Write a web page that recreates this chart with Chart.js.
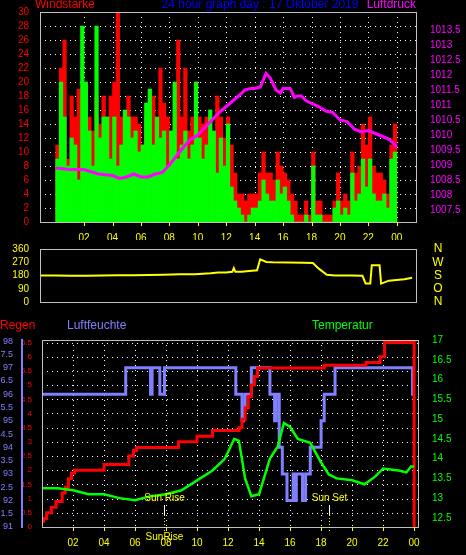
<!DOCTYPE html>
<html><head><meta charset="utf-8">
<script src="https://cdn.jsdelivr.net/npm/chart.js@4.4.0/dist/chart.umd.min.js"></script>
<style>
body{margin:0;background:#000;width:466px;height:555px;overflow:hidden;position:relative}
.c{position:absolute;left:0}
</style></head><body>
<div class="c" style="top:0;width:466px;height:240px"><canvas id="c1"></canvas></div>
<div class="c" style="top:240px;width:466px;height:78px"><canvas id="c2"></canvas></div>
<div class="c" style="top:318px;width:466px;height:237px"><canvas id="c3"></canvas></div>
<script>
// ---- data ----
const hourTicks=[2,4,6,8,10,12,14,16,18,20,22,24];
const gust=[11,22,26,9,18,15,19,15, 11,15,13,18,14,18,15,18, 20,30,15,11,18,15,15,14, 11,15,15,18,14,22,17,15,
 12,15,26,15,22,13,15,20, 15,14,15,13,12,18,15,12, 15,11,7,4,4,3,4,4, 4,7,10,7,7,6,10,8,
 7,6,4,3,1,1,3,1, 10,3,3,1,1,1,3,7, 3,4,3,10,7,8,14,11, 15,8,7,7,6,4,11,14];
const speed=[9,20,15,8,12,11,6,28, 20,13,8,28,12,15,15,9, 15,8,11,16,15,12,13,10, 11,17,19,11,15,12,13,8,
 13,20,9,11,13,9,11,20, 12,9,11,16,13,7,12,8, 14,5,3,2,1,0,1,2, 2,3,6,4,3,3,6,4,
 5,3,1,0,0,0,1,0, 8,1,1,0,0,0,2,3, 1,2,1,7,3,4,9,5, 9,4,3,3,4,2,9,10];
const windHours=gust.map((_,i)=>i*0.25+0.125);
const pressHours=[0,1,2,3,4,4.5,5,5.5,6,6.5,7,7.5,8,8.5,9,9.5,10,10.5,11,11.5,12,12.5,13,13.3,13.7,14,14.4,14.8,15.1,15.5,15.8,16,16.5,16.8,17,17.3,17.6,18,18.5,19,19.5,20,20.5,21,21.5,22,22.5,23,23.5,24];
const pressure=[1008.9,1008.85,1008.85,1008.7,1008.65,1008.55,1008.6,1008.7,1008.6,1008.6,1008.7,1008.75,1009.0,1009.3,1009.6,1009.85,1010.0,1010.25,1010.5,1010.75,1010.95,1011.15,1011.35,1011.5,1011.55,1011.55,1011.6,1012.05,1011.9,1011.5,1011.4,1011.55,1011.55,1011.25,1011.3,1011.3,1011.15,1011.05,1010.95,1010.8,1010.75,1010.5,1010.45,1010.2,1010.1,1010.15,1010.05,1009.95,1009.85,1009.6];
const dirHours=[0,1,2,3,4,5,6,7,8,9,10,11,11.5,12,12.4,12.5,12.6,13,13.5,14,14.2,14.6,15,16,17,17.6,18,18.5,19,20,20.8,21,21.3,21.4,21.9,22,22.5,23,23.5,24];
const windDir=[180,180,178,178,180,182,182,184,185,188,188,195,200,200,205,230,205,205,210,215,290,272,270,268,266,265,225,185,180,180,178,125,125,250,250,125,145,150,155,165];
const rainHours=[0,0.1,0.3,0.6,0.9,1.3,1.5,1.7,1.9,2.1,4.0,5.6,5.9,6.1,8.8,10.0,11.0,12.7,12.9,13.1,13.3,13.5,13.7,13.9,18.2,20.9,21.8,22.1,23.9,24.0];
const rain=[0.2,0.3,0.5,0.7,0.9,1.2,1.4,1.7,1.9,2.0,2.2,2.5,2.7,2.8,3.0,3.2,3.4,3.5,3.8,4.2,4.6,5.0,5.3,5.6,5.7,5.8,6.0,6.5,6.6,0];
const humHours=[0,5.4,7.0,7.1,7.6,7.9,12.5,12.9,13.0,13.1,13.5,14.7,15.0,15.1,15.3,15.5,15.8,16.2,16.3,16.4,16.8,17.0,17.3,18.0,18.2,18.9,23.9,24.0];
const humidity=[96,97,96,97,96,97,96,95,95.5,96,97,96,95,96,94,93,92,93,92,93,92,93,94,95,96,97,96,96];
const tempHours=[0,1,2,2.5,3,4,5,6,7,8,9,10,11,11.8,12.4,12.7,13.1,13.5,14,14.7,15.2,15.6,16,16.5,17.3,18,18.5,19,20,20.8,21.5,22,23,23.5,23.8,24];
const temperature=[13.25,13.25,13.2,13.15,13.1,13.1,13.0,12.95,13.05,13.1,13.2,13.45,13.7,14.0,14.5,14.45,13.5,13.05,13.1,14.0,14.3,14.9,14.8,14.5,14.4,13.9,13.6,13.5,13.45,13.35,13.55,13.75,13.7,13.65,13.8,13.8];
const windTicks=[0,2,4,6,8,10,12,14,16,18,20,22,24,26,28,30];
const pressTicks=[1007.5,1008,1008.5,1009,1009.5,1010,1010.5,1011,1011.5,1012,1012.5,1013,1013.5];
const dirTicks=[0,90,180,270,360];
const dirLetters=['N','W','S','O','N'];
const rainTicks=[0,0.5,1,1.5,2,2.5,3,3.5,4,4.5,5,5.5,6,6.5];
const humTicks=[91,91.5,92,92.5,93,93.5,94,94.5,95,95.5,96,96.5,97,97.5,98];
const tempTicks=[12.5,13,13.5,14,14.5,15,15.5,16,16.5,17];

// ---- helpers ----
const F='"Liberation Sans", Arial, sans-serif';
Chart.defaults.font.family=F; Chart.defaults.font.size=10;
Chart.defaults.animation=false;
const pts=(xs,ys)=>xs.map((x,i)=>({x,y:ys[i]}));
const fixW=w=>s=>{s.width=w;};
const setT=arr=>a=>{a.ticks=arr.map(v=>({value:v}));};
const lbl=v=>String(v);
function xAxis(show,h){return {type:'linear',min:0,max:24.25,afterBuildTicks:setT(hourTicks),
  afterFit:h?(s=>{s.height=h;}):undefined,
  ticks:{display:show,color:'#ffff00',font:{size:10},autoSkip:false,maxRotation:0,padding:2,callback:v=>String(v%24).padStart(2,'0')},
  grid:{display:false},border:{display:false}};}
function gridPlugin(yid,xgrid){return {id:'grid'+yid,beforeDatasetsDraw(c){const a=c.chartArea,x=c.ctx;x.save();x.strokeStyle='#ffffff';x.lineWidth=1;x.setLineDash([1,4]);
  if(xgrid)hourTicks.forEach(h=>{const px=Math.round(c.scales.x.getPixelForValue(h))+0.5;x.beginPath();x.moveTo(px,a.top);x.lineTo(px,a.bottom);x.stroke();});
  if(yid)c.scales[yid].ticks.forEach(t=>{const py=Math.round(c.scales[yid].getPixelForValue(t.value))+0.5;x.beginPath();x.moveTo(a.left,py);x.lineTo(a.right,py);x.stroke();});
  x.restore();}};}
const frame={id:'frame',afterDraw(c){const a=c.chartArea,x=c.ctx;x.save();x.strokeStyle='#c0c0c0';x.lineWidth=1;x.strokeRect(a.left+0.5,a.top+0.5,a.right-a.left,a.bottom-a.top);
  x.strokeStyle='#ffff00';hourTicks.forEach(h=>{if(!c.scales.x.options.ticks.display)return;const px=Math.round(c.scales.x.getPixelForValue(h))+0.5;x.beginPath();x.moveTo(px,a.bottom);x.lineTo(px,a.bottom+4);x.stroke();});
  x.restore();}};
function texts(list){return {id:'t'+Math.random(),afterDraw(c){const x=c.ctx;x.save();list.forEach(t=>{x.font=(t.s||12)+'px '+F;x.fillStyle=t.c;x.textAlign=t.a||'left';x.textBaseline='top';x.fillText(t.t,t.x,t.y);});x.restore();}};}

// ---- chart 1 ----
new Chart(document.getElementById('c1'),{
 data:{datasets:[
  {type:'line',data:pts(pressHours,pressure),yAxisID:'yp',borderColor:'#ff00ff',borderWidth:3,pointRadius:0,order:0},
  {type:'bar',data:pts(windHours,speed),yAxisID:'y',backgroundColor:'#00ff00',grouped:false,barPercentage:1,categoryPercentage:1,order:1},
  {type:'bar',data:pts(windHours,gust),yAxisID:'y',backgroundColor:'#ff0000',grouped:false,barPercentage:1,categoryPercentage:1,order:2}
 ]},
 options:{responsive:true,maintainAspectRatio:false,layout:{padding:{top:10,bottom:0,left:0,right:0}},
  plugins:{legend:{display:false},tooltip:{enabled:false}},
  scales:{x:xAxis(true,18),
   y:{position:'left',min:0,max:30,afterFit:fixW(40),afterBuildTicks:setT(windTicks),ticks:{autoSkip:false,color:'#ff0000',font:{size:10},callback:lbl},
      grid:{display:false},border:{display:false}},
   yp:{position:'right',min:1007.1,max:1014.1,afterFit:fixW(50),afterBuildTicks:setT(pressTicks),
      ticks:{autoSkip:false,color:'#ff00ff',font:{size:10},padding:6,callback:lbl},grid:{display:false},border:{display:true,color:'#ff00ff',width:1}}}},
 plugins:[gridPlugin('y',true),frame,texts([{t:'Windstärke',x:35,y:-1,c:'#ff0000'},{t:'24 hour graph day : 17 Oktober 2019',x:260,y:-1,c:'#0000ff',a:'center'},{t:'Luftdruck',x:416,y:-1,c:'#ff00ff',a:'right'}])]
});

// ---- chart 2 ----
new Chart(document.getElementById('c2'),{
 type:'line',
 data:{datasets:[{data:pts(dirHours,windDir),borderColor:'#ffff00',borderWidth:2,pointRadius:0}]},
 options:{responsive:true,maintainAspectRatio:false,layout:{padding:{top:5,bottom:8,right:50}},
  plugins:{legend:{display:false},tooltip:{enabled:false}},
  scales:{x:xAxis(false),
   y:{min:0,max:360,afterFit:fixW(40),afterBuildTicks:setT(dirTicks),ticks:{autoSkip:false,color:'#ffff00',font:{size:10},callback:lbl},grid:{display:false},border:{display:true,color:'#ffff00'}}}},
 plugins:[frame,{id:'dir',afterDraw(c){const x=c.ctx,s=c.scales.y;x.save();x.font='12px '+F;x.fillStyle='#ffff00';x.textAlign='center';x.textBaseline='middle';
   dirTicks.slice().reverse().forEach((v,i)=>x.fillText(dirLetters[i],438,s.getPixelForValue(v)));x.restore();}}]
});

// ---- chart 3 ----
new Chart(document.getElementById('c3'),{
 type:'line',
 data:{datasets:[
  {data:pts(tempHours,temperature),yAxisID:'yt',borderColor:'#00ff00',borderWidth:2.5,pointRadius:0},
  {data:pts(rainHours,rain),yAxisID:'yr',borderColor:'#ff0000',borderWidth:3,pointRadius:0,stepped:'before'},
  {data:pts(humHours,humidity),yAxisID:'yh',borderColor:'#8080ff',borderWidth:3,pointRadius:0,stepped:'before'}
 ]},
 options:{responsive:true,maintainAspectRatio:false,layout:{padding:{top:22,bottom:0}},
  plugins:{legend:{display:false},tooltip:{enabled:false}},
  scales:{x:xAxis(true,28),
   yr:{position:'left',min:0,max:6.59,afterFit:fixW(20),afterBuildTicks:setT(rainTicks),
     ticks:{autoSkip:false,color:'#ff0000',font:{size:8},padding:2,callback:lbl},grid:{display:false},border:{display:true,color:'#ff0000',width:1}},
   yh:{position:'left',min:91,max:98.04,afterFit:fixW(22),afterBuildTicks:setT(humTicks),
     ticks:{autoSkip:false,color:'#8080ff',font:{size:9},padding:1,callback:lbl},grid:{display:false},border:{display:true,color:'#8080ff',width:2}},
   yt:{position:'right',min:12.27,max:17.0,afterFit:fixW(48),afterBuildTicks:setT(tempTicks),
     ticks:{autoSkip:false,color:'#00ff00',font:{size:10},padding:6,callback:lbl},grid:{display:false},border:{display:true,color:'#00ff00',width:1}}}},
 plugins:[gridPlugin('yr',true),frame,texts([{t:'Regen',x:0,y:2,c:'#ff0000'},{t:'Luftfeuchte',x:67,y:2,c:'#8080ff'},{t:'Temperatur',x:312,y:2,c:'#00ff00'}]),
  {id:'sun',afterDraw(c){const x=c.ctx,xs=c.scales.x,a=c.chartArea;x.save();x.font='10px '+F;x.textAlign='center';x.textBaseline='bottom';
   [[7.9,'Sun Rise'],[18.5,'Sun Set']].forEach(([h,l])=>{const px=Math.round(xs.getPixelForValue(h))+0.5;
    x.fillStyle='#ffff00';x.fillText(l,px,a.bottom-24);
    x.strokeStyle='#ffffff';x.lineWidth=1;x.beginPath();x.moveTo(px,a.bottom-22);x.lineTo(px,a.bottom-12);x.stroke();
    x.strokeStyle='#ffff00';x.setLineDash([1,2]);x.beginPath();x.moveTo(px,a.bottom-12);x.lineTo(px,a.bottom+4);x.stroke();x.setLineDash([]);});
   x.textBaseline='top';x.fillStyle='#ffff00';x.fillText('SunRise',xs.getPixelForValue(7.9),a.bottom+5);x.restore();}}]
});
</script></body></html>
